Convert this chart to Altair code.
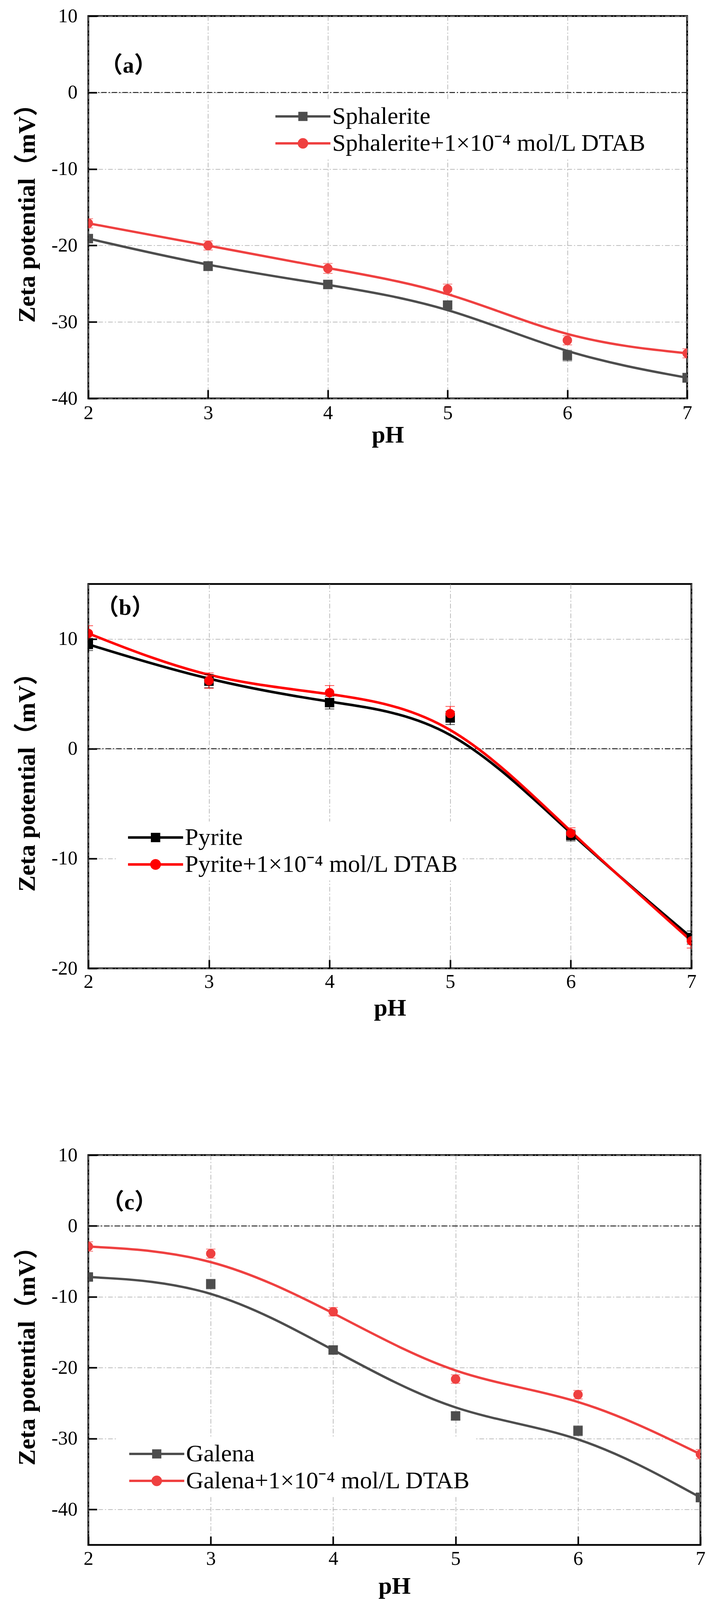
import altair as alt
import pandas as pd

FONT = "Liberation Serif, Noto Sans CJK SC"

pH = [2, 3, 4, 5, 6, 7]
x_ticks = [2, 3, 4, 5, 6, 7]
zero_line = [0]
panel_tags = ["（a）", "（b）", "（c）"]
y_title = "Zeta potential（mV）"
x_title = "pH"

# ---- panel (a) sphalerite
a_names = ["Sphalerite", "Sphalerite+1×10⁻⁴ mol/L DTAB"]
a_plain = [-19.1, -22.7, -25.1, -27.8, -34.4, -37.3]
a_plain_err = [0.55, 0.6, 0.55, 0.57, 0.7, 0.6]
a_dtab = [-17.1, -20.0, -23.0, -25.7, -32.4, -34.1]
a_dtab_err = [0.6, 0.6, 0.65, 0.65, 0.6, 0.6]
a_colors = ["#4d4d4d", "#ef4040"]
a_ydomain = [-40, 10]
a_yticks = [-40, -30, -20, -10, 0, 10]

# ---- panel (b) pyrite
b_names = ["Pyrite", "Pyrite+1×10⁻⁴ mol/L DTAB"]
b_plain = [9.5, 6.15, 4.2, 2.8, -7.9, -17.2]
b_plain_err = [0.56, 0.6, 0.58, 0.6, 0.5, 0.6]
b_dtab = [10.5, 6.2, 5.1, 3.2, -7.7, -17.5]
b_dtab_err = [0.7, 0.7, 0.65, 0.65, 0.5, 0.65]
b_colors = ["#000000", "#ff0000"]
b_ydomain = [-20, 15]
b_yticks = [-20, -10, 0, 10]

# ---- panel (c) galena
c_names = ["Galena", "Galena+1×10⁻⁴ mol/L DTAB"]
c_plain = [-7.2, -8.2, -17.5, -26.8, -28.9, -38.3]
c_plain_err = [0.5, 0.68, 0.6, 0.55, 0.7, 0.64]
c_dtab = [-2.9, -3.9, -12.1, -21.6, -23.8, -32.2]
c_dtab_err = [0.67, 0.64, 0.6, 0.6, 0.6, 0.66]
c_colors = ["#4d4d4d", "#ef4040"]
c_ydomain = [-45, 10]
c_yticks = [-40, -30, -20, -10, 0, 10]

markers = ["square", "circle"]
# legend symbols: a line with the marker in its middle (unit = half marker box)
legend_paths = [
    "M-6.4,0H6.4M-0.8,-0.8H0.8V0.8H-0.8Z",
    "M-6.4,0H6.4M0.95,0A0.95,0.95,0,1,1,-0.95,0A0.95,0.95,0,1,1,0.95,0Z",
]


def make_df(names, vals, errs):
    rows = []
    for name, v_list, e_list, mk in zip(names, vals, errs, markers):
        for x, v, e in zip(pH, v_list, e_list):
            rows.append({"pH": x, "zeta": v, "lo": v - e, "hi": v + e,
                         "series": name, "marker": mk})
    return pd.DataFrame(rows)


def panel(df, names, colors, ydom, yticks, w, h, tag, tag_x, tag_y,
          leg_x, leg_y, lw, x_lp, x_tp):
    xaxis = alt.Axis(values=x_ticks, title=x_title, titleFont=FONT,
                     titleFontSize=62, titleFontWeight="bold", titleColor="black",
                     titlePadding=x_tp, labelFont=FONT, labelFontSize=50,
                     labelColor="black", labelPadding=x_lp, labelFlush=False,
                     labelOverlap=False,
                     tickSize=22, tickWidth=4, tickColor="black", offset=-22,
                     domain=False, grid=True, gridColor="#a6a6a6",
                     gridDash=[12, 5, 3, 5], gridWidth=1.5)
    yaxis = alt.Axis(values=yticks, title=y_title, titleFont=FONT,
                     titleFontSize=62, titleFontWeight="bold", titleColor="black",
                     titlePadding=30, labelFont=FONT, labelFontSize=50,
                     labelColor="black", labelPadding=28, labelFlush=False,
                     labelOverlap=False, labelExpr="'' + datum.value",
                     tickSize=22, tickWidth=4, tickColor="black", offset=-22,
                     domain=False, grid=True, gridColor="#a6a6a6",
                     gridDash=[12, 5, 3, 5], gridWidth=1.5)
    xs = alt.Scale(domain=[2, 7], nice=False, zero=False)
    ys = alt.Scale(domain=ydom, nice=False, zero=False)
    x = alt.X("pH:Q", scale=xs, axis=xaxis)
    y = alt.Y("zeta:Q", scale=ys, axis=yaxis)
    leg = alt.Legend(orient="none", legendX=leg_x, legendY=leg_y, title=None,
                     labelFont=FONT, labelFontSize=62, labelColor="black",
                     labelLimit=3000, symbolSize=484, symbolStrokeWidth=lw,
                     symbolOpacity=1, symbolOffset=59, labelOffset=44,
                     rowPadding=7, padding=10, fillColor="white")
    col = alt.Color("series:N", scale=alt.Scale(domain=names, range=colors),
                    legend=leg)
    base = alt.Chart(df)

    legend_layer = base.transform_filter("false").mark_point(
        filled=True, opacity=1).encode(
        x=x, y=y, color=col,
        shape=alt.Shape("series:N",
                        scale=alt.Scale(domain=names, range=legend_paths),
                        legend=leg))
    zero = alt.Chart(pd.DataFrame({"zeta": zero_line})).mark_rule(
        color="black", strokeWidth=2, strokeDash=[14, 5, 3, 5]).encode(y=y)
    lines = base.mark_line(interpolate="basis", strokeWidth=lw, clip=True).encode(
        x=x, y=y, color=col)
    bars = base.mark_errorbar(ticks={"size": 24, "thickness": 2}, thickness=2,
                              clip=True).encode(
        x=x, y=alt.Y("lo:Q", scale=ys, axis=yaxis), y2="hi:Q", color=col)
    pts = base.mark_point(filled=True, opacity=1, size=580, clip=True).encode(
        x=x, y=y, color=col, shape=alt.Shape("marker:N", scale=None))
    label = alt.Chart(pd.DataFrame({"tag": [tag]})).mark_text(
        font=FONT, fontSize=58, fontWeight="bold", color="black",
        align="left", baseline="middle").encode(
        text="tag:N", x=alt.value(tag_x), y=alt.value(tag_y))
    return alt.layer(legend_layer, zero, lines, bars, pts, label).properties(
        width=w, height=h)


pa = panel(make_df(a_names, [a_plain, a_dtab], [a_plain_err, a_dtab_err]),
           a_names, a_colors, a_ydomain, a_yticks, 1532, 979,
           panel_tags[0], 30, 128, 449, 216, 6, 12, 1)
pb = panel(make_df(b_names, [b_plain, b_dtab], [b_plain_err, b_dtab_err]),
           b_names, b_colors, b_ydomain, b_yticks, 1543, 984,
           panel_tags[1], 20, 62, 72, 608, 6.5, 9, 12).properties(
    title=alt.TitleParams(" ", fontSize=2, offset=28))
pc = panel(make_df(c_names, [c_plain, c_dtab], [c_plain_err, c_dtab_err]),
           c_names, c_colors, c_ydomain, c_yticks, 1566, 998,
           panel_tags[2], 34, 122, 75, 724, 6, 10, 15)

chart = alt.vconcat(pa, pb, pc, spacing=315).resolve_scale(
    color="independent", shape="independent", x="independent", y="independent"
).resolve_legend(color="independent", shape="independent").properties(
    padding={"left": 28, "top": 5, "right": 10, "bottom": 4},
    background="white"
).configure_view(stroke="black", strokeWidth=4.5)

chart.save("out.html", embed_options={"renderer": "svg", "actions": False})
